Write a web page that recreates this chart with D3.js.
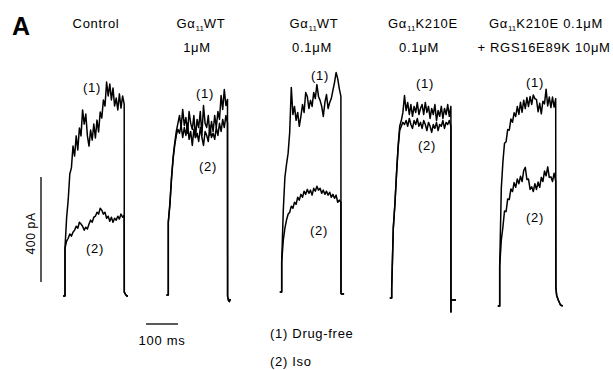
<!DOCTYPE html>
<html><head><meta charset="utf-8">
<script src="https://cdn.jsdelivr.net/npm/d3@7"></script>
<style>
body{margin:0;background:#fff}
svg{display:block}
text{font-family:"Liberation Sans",Arial,Helvetica,sans-serif;fill:#000}
</style>
</head><body>
<svg id="chart" width="613" height="370"></svg>
<script>
// ---------------- DATA ----------------
// titles ("|" delimits the subscript "11")
const titleLine1 = ["Control", "Gα|11|WT", "Gα|11|WT", "Gα|11|K210E", "Gα|11|K210E  0.1μM"];
const titleLine2 = ["", "1μM", "0.1μM", "0.1μM", "+ RGS16E89K 10μM"];
const traceLabels = ["(1)", "(2)"];
const legendLabels = ["(1) Drug-free", "(2) Iso"];
const scaleBarCurrent = 400;   // pA
const scaleBarTime = 100;      // ms
const scaleBarCurrentLabel = "400 pA";
const scaleBarTimeLabel = "100 ms";
const sampleStepMs = 5;        // sampling interval of the traces (ms)
const prePulseMs = 6;

// current (pA) sampled every 5 ms from pulse onset; (1) drug-free, (2) Iso
const drugFreeControl = [183,297,366,465,488,571,533,610,556,640,610,709,655,693,610,571,632,594,655,602,670,625,701,678,747,724,815,762,808,747,792,724,754,709,770,716,762,731];
const isoControl      = [183,209,220,236,228,243,251,266,258,281,274,266,251,262,255,274,289,281,300,304,319,312,334,327,312,319,296,304,285,300,281,296,289,304,293,312,300,308];

const drugFreeWT1 = [277,350,448,524,578,623,654,684,638,707,646,676,616,699,654,631,684,600,669,638,699,608,722,654,638,684,608,661,623,684,638,699,669,760,707,783,722,745];
const isoWT1      = [277,342,441,517,570,608,631,616,646,600,638,608,654,593,623,570,631,600,616,585,638,600,570,623,608,585,646,600,616,593,638,608,654,623,669,638,684,654];

const drugFreeWT01 = [114,312,437,486,528,608,779,676,707,654,684,631,669,714,684,760,745,699,730,707,760,737,790,745,730,707,669,722,752,699,722,737,768,798,836,813,775,745];
const isoWT01      = [114,198,243,274,296,304,327,319,342,334,361,350,372,361,384,372,391,376,388,369,395,384,403,388,395,376,388,372,384,369,380,361,372,357,369,342,350,342];

const drugFreeK210E = [38,266,357,471,578,654,676,707,771,714,745,699,737,692,730,707,745,699,722,737,699,745,707,730,684,722,699,737,676,714,692,730,684,722,699,737,692,730];
const isoK210E      = [38,266,357,471,570,638,654,669,661,676,654,684,661,646,676,661,684,654,669,646,676,661,638,669,654,631,661,646,669,638,661,654,676,646,669,661,676,654];

const drugFreeK210ERGS = [152,448,548,620,626,672,670,712,700,736,722,760,730,776,738,784,752,794,760,798,768,804,790,786,740,772,732,780,770,826,762,796,756,796,758,790];
const isoK210ERGS      = [152,251,300,362,360,408,406,446,436,470,452,484,466,494,474,516,528,482,484,444,454,436,466,444,472,452,490,474,514,496,530,490,492,474,506,476];

// tail current after the pulse: [ms after pulse end, pA]
const tailControl  = [[0.3,15],[3,8],[8,0],[12,0]];
const tailWT1      = [[0.3,-5],[3,-20],[6,-25],[9,-15]];
const tailWT01     = [[0.3,-5],[2,-8],[10,-8]];
const tailK210E    = [[0.2,-53],[0.4,-8],[16,-8]];
const tailK210ERGS = [[0.5,72],[3,40],[8,23],[15,4],[22,0]];

const traces = [
  [drugFreeControl, isoControl, tailControl],
  [drugFreeWT1, isoWT1, tailWT1],
  [drugFreeWT01, isoWT01, tailWT01],
  [drugFreeK210E, isoK210E, tailK210E],
  [drugFreeK210ERGS, isoK210ERGS, tailK210ERGS]
];

// ---------------- LAYOUT ----------------
const layout = [
  {ox:65,    base:296, tx:96,  l1:[92,87],  l2:[95,248]},
  {ox:168.3, base:295, tx:201, l1:[205,93], l2:[208,166]},
  {ox:281.7, base:292, tx:314, l1:[320,75], l2:[319,230]},
  {ox:391.7, base:298, tx:423, l1:[425,83], l2:[427,145]},
  {ox:499.7, base:306, tx:546, l1:[535,82], l2:[535,217]}
];
const line2X = [96, 197, 312, 419, 544];

// ---------------- DRAW ----------------
const svg = d3.select("#chart");
const x = d3.scaleLinear().domain([0, 100]).range([0, 32]);     // ms -> px
const y = d3.scaleLinear().domain([0, 400]).range([0, -105]);   // pA -> px (relative to baseline)
const line = d3.line().x(d => x(d[0])).y(d => y(d[1]));

function buildTrace(vals, tail) {
  const pts = [[-prePulseMs, 0], [0, 0]];
  vals.forEach((v, i) => pts.push([i * sampleStepMs, v]));
  const end = (vals.length - 1) * sampleStepMs;
  tail.forEach(([dt, v]) => pts.push([end + dt, v]));
  return pts;
}

const fs = 13, ls = "0.7px";

svg.append("text").attr("x", 12).attr("y", 35)
  .style("font-size", "25px").style("font-weight", "bold").text("A");

traces.forEach((tr, p) => {
  const L = layout[p];
  const g = svg.append("g").attr("transform", `translate(${L.ox},${L.base})`);
  [tr[1], tr[0]].forEach(vals => {
    g.append("path").datum(buildTrace(vals, tr[2]))
      .attr("d", line).attr("fill", "none").attr("stroke", "#000")
      .attr("stroke-width", 1.5).attr("stroke-linejoin", "round");
  });
  [L.l1, L.l2].forEach((pos, k) => {
    svg.append("text").attr("x", pos[0]).attr("y", pos[1] + 5)
      .attr("text-anchor", "middle").style("font-size", fs + "px")
      .style("letter-spacing", ls).text(traceLabels[k]);
  });
  // title line 1 with subscript
  const t = svg.append("text").attr("x", L.tx).attr("y", 28)
    .attr("text-anchor", "middle").style("font-size", fs + "px").style("letter-spacing", ls);
  titleLine1[p].split("|").forEach((s, i) => {
    const ts = t.append("tspan").text(s);
    if (i % 2 === 1) ts.style("font-size", "8px").attr("dy", 3).style("letter-spacing", "0px");
    else if (i > 0) ts.attr("dy", -3);
  });
  if (titleLine2[p]) {
    svg.append("text").attr("x", line2X[p]).attr("y", 52)
      .attr("text-anchor", "middle").style("font-size", fs + "px")
      .style("letter-spacing", ls).text(titleLine2[p]);
  }
});

// scale bars
const vbX = 41, vbY = 282;
svg.append("line").attr("x1", vbX).attr("x2", vbX)
  .attr("y1", vbY).attr("y2", vbY + y(scaleBarCurrent))
  .attr("stroke", "#000").attr("stroke-width", 1.3);
svg.append("text").attr("transform", `translate(35,${vbY + y(scaleBarCurrent) / 2 + 4}) rotate(-90)`)
  .attr("text-anchor", "middle").style("font-size", "12px").style("letter-spacing", ls)
  .text(scaleBarCurrentLabel);

const hbX = 146, hbY = 324;
svg.append("line").attr("x1", hbX).attr("x2", hbX + x(scaleBarTime))
  .attr("y1", hbY).attr("y2", hbY).attr("stroke", "#000").attr("stroke-width", 1.3);
svg.append("text").attr("x", hbX + x(scaleBarTime) / 2).attr("y", 345)
  .attr("text-anchor", "middle").style("font-size", fs + "px").style("letter-spacing", ls)
  .text(scaleBarTimeLabel);

legendLabels.forEach((s, i) => {
  svg.append("text").attr("x", 270).attr("y", 338 + i * 28)
    .style("font-size", fs + "px").style("letter-spacing", ls).text(s);
});
</script>
</body></html>
